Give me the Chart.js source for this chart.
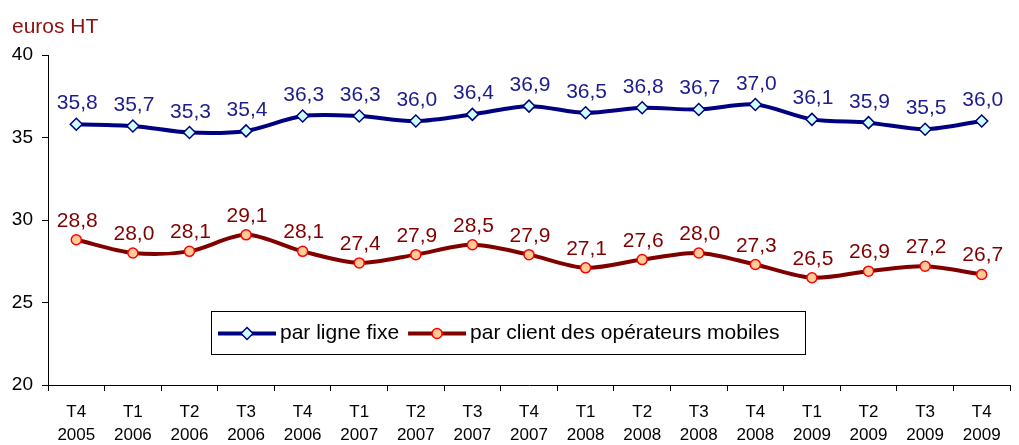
<!DOCTYPE html>
<html>
<head>
<meta charset="utf-8">
<script src="https://cdn.jsdelivr.net/npm/chart.js@4.4.0/dist/chart.umd.min.js"></script>
<style>
  html, body { margin: 0; padding: 0; background: #fff; }
  #wrap { width: 1019px; height: 445px; }
</style>
</head>
<body>
<div id="wrap"><canvas id="myChart" width="1019" height="445"></canvas></div>
<script>
const quarters = ['T4','T1','T2','T3','T4','T1','T2','T3','T4','T1','T2','T3','T4','T1','T2','T3','T4'];
const years = ['2005','2006','2006','2006','2006','2007','2007','2007','2007','2008','2008','2008','2008','2009','2009','2009','2009'];
const ligneFixe = [35.8, 35.7, 35.3, 35.4, 36.3, 36.3, 36.0, 36.4, 36.9, 36.5, 36.8, 36.7, 37.0, 36.1, 35.9, 35.5, 36.0];
const clientMobile = [28.8, 28.0, 28.1, 29.1, 28.1, 27.4, 27.9, 28.5, 27.9, 27.1, 27.6, 28.0, 27.3, 26.5, 26.9, 27.2, 26.7];
const yTicks = [20, 25, 30, 35, 40];
const seriesNames = ['par ligne fixe', 'par client des opérateurs mobiles'];

const FONT = '"Liberation Sans", Arial, sans-serif';
Chart.defaults.font.family = FONT;
Chart.defaults.color = '#000';

const ctx = document.getElementById('myChart').getContext('2d');

// value labels above each point
const valueLabels = {
    id: 'valueLabels',
    afterDatasetsDraw(chart) {
        const c = chart.ctx;
        c.save();
        c.font = '21px ' + FONT;
        c.textAlign = 'center';
        c.textBaseline = 'alphabetic';
        chart.data.datasets.forEach((ds, i) => {
            const meta = chart.getDatasetMeta(i);
            c.fillStyle = ds.labelColor;
            meta.data.forEach((pt, j) => {
                const txt = ds.data[j].toFixed(1).replace('.', ',');
                c.fillText(txt, pt.x + 1, pt.y - ds.labelOffset);
            });
        });
        c.restore();
    }
};

// unit title + legend box inside the plot
const extras = {
    id: 'extras',
    afterDraw(chart) {
        const c = chart.ctx;
        c.save();
        c.font = '21px ' + FONT;
        c.fillStyle = '#8b1010';
        c.textBaseline = 'alphabetic';
        c.fillText('euros HT', 12, 33);

        // legend
        const bx = 211, by = 311, bw = 594, bh = 43;
        c.fillStyle = '#fff';
        c.fillRect(bx, by, bw, bh);
        c.strokeStyle = '#000';
        c.lineWidth = 1;
        c.strokeRect(bx + 0.5, by + 0.5, bw, bh);

        c.font = '21px ' + FONT;
        c.textBaseline = 'middle';
        const cy = by + bh / 2 + 1;
        let x = bx + 7;
        chart.data.datasets.forEach((ds, i) => {
            c.strokeStyle = ds.borderColor;
            c.lineWidth = 4;
            c.beginPath();
            c.moveTo(x, cy);
            c.lineTo(x + 58, cy);
            c.stroke();
            const mx = x + 29;
            c.fillStyle = ds.pointBackgroundColor;
            c.strokeStyle = ds.pointBorderColor;
            c.lineWidth = 1.5;
            c.beginPath();
            if (ds.pointStyle === 'rectRot') {
                c.moveTo(mx, cy - 6); c.lineTo(mx + 6, cy); c.lineTo(mx, cy + 6); c.lineTo(mx - 6, cy); c.closePath();
            } else {
                c.arc(mx, cy, 5, 0, Math.PI * 2);
            }
            c.fill();
            c.stroke();
            c.fillStyle = '#000';
            c.fillText(seriesNames[i], x + 62, cy);
            x += 62 + c.measureText(seriesNames[i]).width + 9;
        });
        c.restore();
    }
};

new Chart(ctx, {
    type: 'line',
    data: {
        labels: quarters.map((q, i) => [q, years[i]]),
        datasets: [{
            label: seriesNames[0],
            data: ligneFixe,
            borderColor: '#000080',
            borderWidth: 4,
            pointStyle: 'rectRot',
            pointRadius: 6,
            pointBorderWidth: 1.5,
            pointBackgroundColor: '#ccffff',
            pointBorderColor: '#000080',
            tension: 0.3,
            labelColor: '#1c1c8c',
            labelOffset: 15
        }, {
            label: seriesNames[1],
            data: clientMobile,
            borderColor: '#800000',
            borderWidth: 4,
            pointStyle: 'circle',
            pointRadius: 5,
            pointBorderWidth: 1.5,
            pointBackgroundColor: '#ffcc99',
            pointBorderColor: '#ff0000',
            tension: 0.3,
            labelColor: '#800000',
            labelOffset: 13
        }]
    },
    options: {
        responsive: false,
        animation: false,
        layout: { padding: { top: 55, right: 9, left: 0, bottom: 0 } },
        scales: {
            x: {
                offset: true,
                grid: { offset: true, drawOnChartArea: false, drawTicks: true, tickLength: 6, color: '#000' },
                border: { display: true, color: '#000', width: 1 },
                ticks: { font: { size: 17, lineHeight: 1.35 }, color: '#000', padding: 10, maxRotation: 0, autoSkip: false },
                afterFit(scale) { scale.height = 60; }
            },
            y: {
                min: 20,
                max: 40,
                afterBuildTicks(scale) { scale.ticks = yTicks.map(v => ({ value: v })); },
                grid: { drawOnChartArea: false, drawTicks: true, tickLength: 6, color: '#000' },
                border: { display: true, color: '#000', width: 1 },
                ticks: { font: { size: 19 }, color: '#000', padding: 9 },
                afterFit(scale) { scale.width = 48; }
            }
        },
        plugins: {
            legend: { display: false },
            tooltip: { enabled: false }
        }
    },
    plugins: [valueLabels, extras]
});
</script>
</body>
</html>
